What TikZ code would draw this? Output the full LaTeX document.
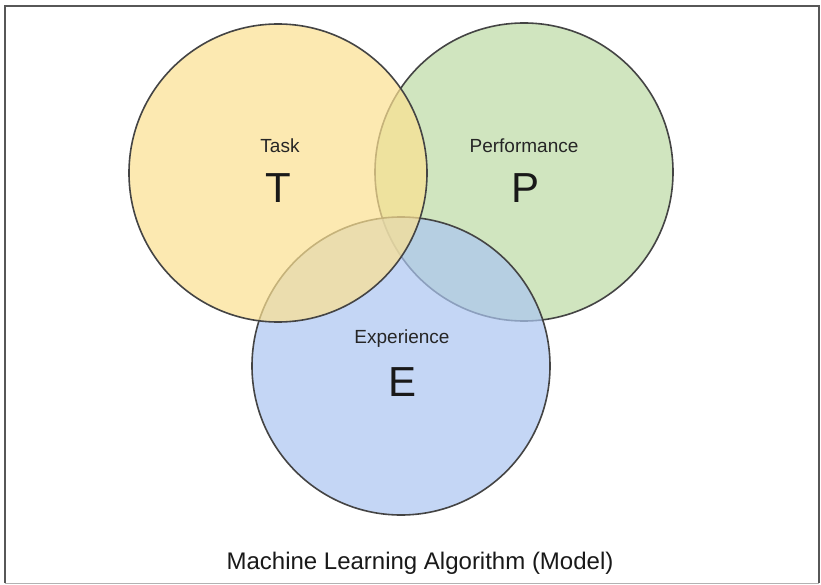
\documentclass[tikz,border=0pt]{standalone}
\usepackage{fontspec}
\setmainfont{Liberation Sans}
\definecolor{tyel}{RGB}{252,225,145}
\definecolor{tgrn}{RGB}{189,218,165}
\definecolor{tblu}{RGB}{171,198,241}
\definecolor{edge}{RGB}{68,68,68}
\tikzset{
  venn/.style={circle, draw=edge, line width=1.6pt, fill opacity=0.7, minimum size=298pt, inner sep=0pt},
  small/.style={font=\fontsize{19}{22}\selectfont, text=black!85},
  big/.style={font=\fontsize{42}{46}\selectfont, text=black!90},
}
\begin{document}
\begin{tikzpicture}[x=1pt,y=-1pt]
\useasboundingbox (0,0) rectangle (821,585);
\fill[white] (0,0) rectangle (821,585);
\draw[draw=edge!90, line width=2pt] (5,583) -- (5,6) -- (819,6) -- (819,583);
\draw[draw=black!30, line width=1.5pt] (5,583.5) -- (819,583.5);
\node[venn, fill=tgrn] (P) at (524,172) {};
\node[venn, fill=tblu] (E) at (401,366) {};
\node[venn, fill=tyel] (T) at (278,173) {};
\node[small] (tl) at (280,146) {Task};
\node[big] (tt) at (278,188) {T};
\node[small] (pl) at (524,146) {Performance};
\node[big] (pp) at (525,188) {P};
\node[small] (el) at (402,339) {Experience};
\node[big] (ee) at (403,382) {E};
\node[font=\fontsize{24}{28}\selectfont, text=black!90] (title) at (420,563) {Machine Learning Algorithm (Model)};
\end{tikzpicture}
\end{document}
